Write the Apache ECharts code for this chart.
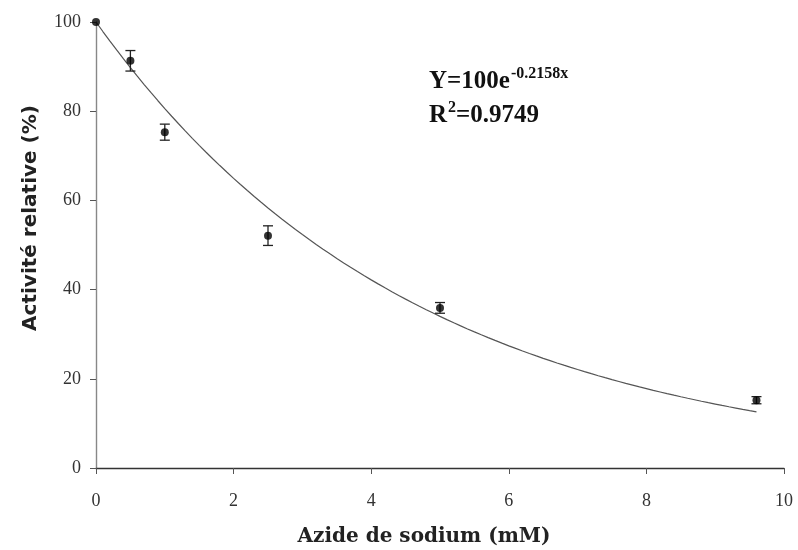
<!DOCTYPE html>
<html><head><meta charset="utf-8">
<script src="https://cdn.jsdelivr.net/npm/echarts@6/dist/echarts.min.js"></script>
<style>html,body{margin:0;padding:0;background:#fff}#c{width:798px;height:550px}</style>
</head><body><div id="c"></div>
<script>
const concentrations = [0, 0.5, 1, 2.5, 5, 9.6];
const activity = [100, 91.3, 75.3, 52.1, 35.9, 15.2];
const errors = [0, 2.3, 1.8, 2.2, 1.2, 0.8];
const xTicks = [0, 2, 4, 6, 8, 10];
const yTicks = [0, 20, 40, 60, 80, 100];
const xTitle = 'Azide de sodium (mM)';
const yTitle = 'Activité relative (%)';
const fitA = 100, fitB = -0.2158, fitR2 = 0.9749;
const fitX = [];
for (let i = 0; i <= 96; i++) fitX.push(i / 10);
const fitData = fitX.map(x => [x, fitA * Math.exp(fitB * x)]);

const chart = echarts.init(document.getElementById('c'));
const serif = '"Liberation Serif", "Times New Roman", serif';
const wideSerif = '"DejaVu Serif", serif';
const sans = '"DejaVu Sans", Verdana, sans-serif';
const eqRich = {
  b: {fontFamily: serif, fontWeight: 'bold', fontSize: 25, fill: '#111', lineHeight: 28, verticalAlign: 'bottom'},
  s: {fontFamily: serif, fontWeight: 'bold', fontSize: 16, fill: '#111', lineHeight: 28, verticalAlign: 'top', padding: [0, 0, 12, 1]}
};
chart.setOption({
  animation: false,
  grid: {left: 96, right: 14, top: 22, bottom: 82, outerBoundsMode: 'none', containLabel: false},
  xAxis: {
    type: 'value', min: xTicks[0], max: xTicks[xTicks.length - 1], interval: 2,
    axisLine: {lineStyle: {color: '#333', width: 1.4}},
    axisTick: {show: true, length: 6, lineStyle: {color: '#555'}},
    axisLabel: {fontFamily: serif, fontSize: 18, color: '#333', margin: 24},
    splitLine: {show: false}
  },
  yAxis: {
    type: 'value', min: yTicks[0], max: yTicks[yTicks.length - 1], interval: 20,
    axisLine: {show: true, lineStyle: {color: '#888', width: 1.4}},
    axisTick: {show: true, length: 6, lineStyle: {color: '#555'}},
    axisLabel: {fontFamily: serif, fontSize: 18, color: '#333', margin: 15},
    splitLine: {show: false}
  },
  graphic: [
    {type: 'text', x: 31, y: 218, rotation: Math.PI / 2, style: {
      text: yTitle, fontFamily: sans, fontWeight: 'bold', fontSize: 20, fill: '#222',
      align: 'center', verticalAlign: 'middle'
    }},
    {type: 'text', x: 424, y: 537, style: {
      text: xTitle, fontFamily: wideSerif, fontWeight: 'bold', fontSize: 20, fill: '#222',
      align: 'center', verticalAlign: 'middle'
    }},
    {type: 'text', left: 429, top: 66, style: {
      text: '{b|Y=100e}{s|' + fitB.toFixed(4) + 'x}', rich: eqRich
    }},
    {type: 'text', left: 429, top: 100, style: {
      text: '{b|R}{s|2}{b|=' + fitR2 + '}', rich: eqRich
    }}
  ],
  series: [
    {
      type: 'line', data: fitData, showSymbol: false, smooth: false,
      lineStyle: {color: '#555', width: 1.2}, z: 2
    },
    {
      type: 'custom',
      data: concentrations.map((x, i) => [x, activity[i] - errors[i], activity[i] + errors[i]]),
      renderItem: function (params, api) {
        if (api.value(2) - api.value(1) <= 0) return null;
        const lo = api.coord([api.value(0), api.value(1)]);
        const hi = api.coord([api.value(0), api.value(2)]);
        const w = 5;
        const st = {stroke: '#222', lineWidth: 1.3};
        return {type: 'group', children: [
          {type: 'line', shape: {x1: lo[0], y1: lo[1], x2: hi[0], y2: hi[1]}, style: st},
          {type: 'line', shape: {x1: lo[0] - w, y1: lo[1], x2: lo[0] + w, y2: lo[1]}, style: st},
          {type: 'line', shape: {x1: hi[0] - w, y1: hi[1], x2: hi[0] + w, y2: hi[1]}, style: st}
        ]};
      },
      z: 3
    },
    {
      type: 'scatter', data: concentrations.map((x, i) => [x, activity[i]]),
      symbol: 'circle', symbolSize: 8, itemStyle: {color: '#000'}, z: 4
    }
  ]
});
</script></body></html>
